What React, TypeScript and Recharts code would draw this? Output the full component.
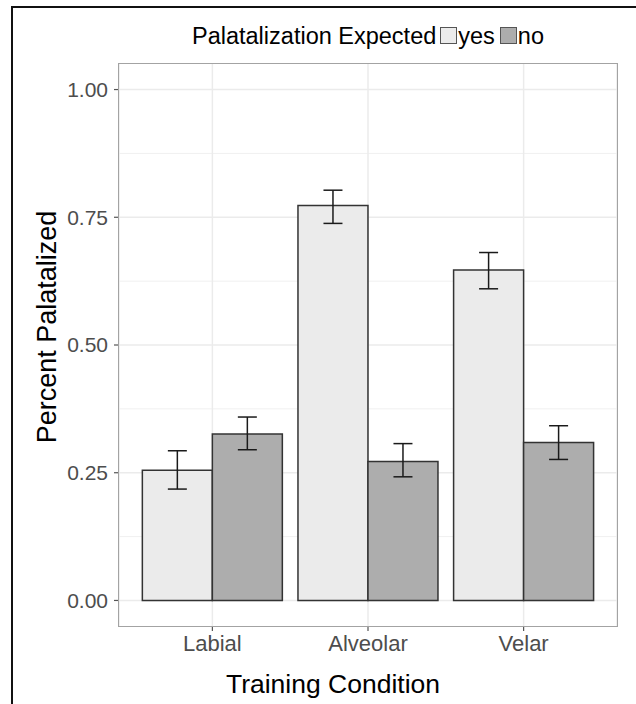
import { Bar, BarChart, CartesianGrid, ErrorBar, Label, XAxis, YAxis } from 'recharts';

const categories = ['Labial', 'Alveolar', 'Velar'];
const yesMean = [0.255, 0.773, 0.647];
const yesLow = [0.218, 0.738, 0.61];
const yesHigh = [0.293, 0.803, 0.681];
const noMean = [0.326, 0.272, 0.309];
const noLow = [0.295, 0.242, 0.276];
const noHigh = [0.359, 0.307, 0.342];
const yTicks = [0, 0.25, 0.5, 0.75, 1];
const yMinor = [0.125, 0.375, 0.625, 0.875];
const seriesNames = ['yes', 'no'];
const seriesFill = ['#ebebeb', '#adadad'];

const data = categories.map((cond, i) => ({
  cond,
  yes: yesMean[i],
  yesErr: [yesMean[i] - yesLow[i], yesHigh[i] - yesMean[i]],
  no: noMean[i],
  noErr: [noMean[i] - noLow[i], noHigh[i] - noMean[i]],
}));

const W = 636;
const H = 704;
const margin = { top: 64, right: 19, bottom: 0, left: 0 };
const yAxisW = 119;
const xAxisH = 78;
const font = '"Liberation Sans", Arial, Helvetica, sans-serif';

export default function App() {
  const plotL = margin.left + yAxisW;
  const plotT = margin.top;
  const plotW = W - plotL - margin.right;
  const plotH = H - plotT - margin.bottom - xAxisH;
  // ggplot discrete axis: 0.6 units of expansion each side, bands of 1 unit
  const pad = (plotW * 0.1) / 3.2;

  return (
    <div style={{ position: 'fixed', left: 0, top: 0, width: W, height: H, overflow: 'hidden', background: '#fff', fontFamily: font }}>
      <div style={{ position: 'absolute', left: 11, top: 6, width: W + 50, height: H + 50, border: '2px solid #111' }} />

      <div style={{ position: 'absolute', left: plotL, top: 23, width: plotW, display: 'flex', justifyContent: 'center', alignItems: 'flex-start', fontSize: 23.5, lineHeight: '26px', color: '#000' }}>
        <span style={{ marginRight: 4 }}>Palatalization Expected</span>
        {seriesNames.map((n, i) => (
          <span key={n} style={{ display: 'flex', alignItems: 'flex-start', marginRight: i === 0 ? 5 : 0 }}>
            <span style={{ width: 17, height: 17, marginTop: 4, boxSizing: 'border-box', border: '1px solid #555', background: seriesFill[i], marginRight: 1 }} />
            <span>{n}</span>
          </span>
        ))}
      </div>

      <div style={{ position: 'absolute', left: 0, top: 0 }}>
        <BarChart width={W} height={H} data={data} margin={margin} barCategoryGap="5%" barGap={0}>
          <CartesianGrid horizontalValues={yMinor} vertical={false} stroke="#f0f0f0" strokeWidth={1} />
          <CartesianGrid horizontalValues={yTicks} stroke="#ebebeb" strokeWidth={1.5} />
          <XAxis
            dataKey="cond"
            height={xAxisH}
            padding={{ left: pad, right: pad }}
            axisLine={false}
            tickSize={5}
            tickMargin={4}
            tickLine={{ stroke: '#555', strokeWidth: 1.2 }}
            tick={{ fill: '#4d4d4d', fontSize: 22, fontFamily: font }}
          >
            <Label
              content={() => (
                <text x={333} y={693} textAnchor="middle" fontSize={26.5} fontFamily={font} fill="#000">
                  Training Condition
                </text>
              )}
            />
          </XAxis>
          <YAxis
            width={yAxisW}
            domain={[-0.05, 1.05]}
            ticks={yTicks}
            allowDataOverflow
            axisLine={false}
            tickSize={5}
            tickMargin={6}
            tickLine={{ stroke: '#555', strokeWidth: 1.2 }}
            tickFormatter={(v: number) => v.toFixed(2)}
            tick={{ fill: '#4d4d4d', fontSize: 21, fontFamily: font }}
          >
            <Label
              content={() => (
                <text x={56} y={327} transform="rotate(-90 56 327)" textAnchor="middle" fontSize={27} fontFamily={font} fill="#000">
                  Percent Palatalized
                </text>
              )}
            />
          </YAxis>
          {seriesNames.map((n, i) => (
            <Bar key={n} dataKey={n} fill={seriesFill[i]} stroke="#333" strokeWidth={1.5} isAnimationActive={false}>
              <ErrorBar dataKey={n + 'Err'} width={9.5} stroke="#1a1a1a" strokeWidth={1.5} direction="y" isAnimationActive={false} />
            </Bar>
          ))}
        </BarChart>
      </div>

      <div style={{ position: 'absolute', left: plotL - 0.75, top: plotT - 0.75, width: plotW + 1.5, height: plotH + 1.5, boxSizing: 'border-box', border: '1.5px solid #a3a3a3', pointerEvents: 'none' }} />
    </div>
  );
}
